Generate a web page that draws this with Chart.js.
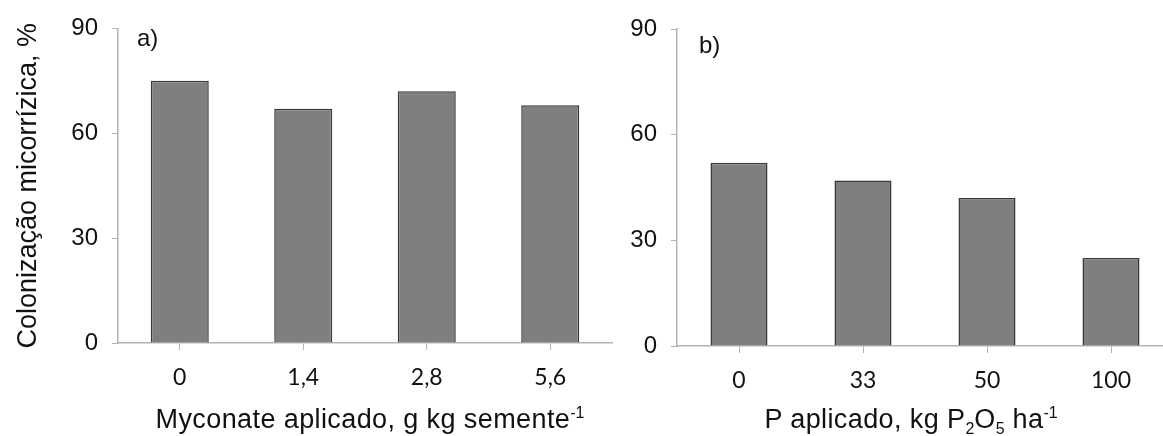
<!DOCTYPE html>
<html lang="pt-BR">
<head>
    <meta charset="UTF-8">
    <title>Colonização micorrízica</title>
    <script src="https://cdn.jsdelivr.net/npm/chart.js"></script>
    <style>
        body { margin: 0; background: #fff; overflow: hidden; width: 1163px; height: 436px; position: relative; }
        .painel { position: absolute; top: 0; height: 436px; }
        #painelA { left: 0; width: 640px; }
        #painelB { left: 600px; width: 600px; }
        .titulo-x {
            position: absolute; top: 404px; width: 500px; text-align: center;
            font-family: "Liberation Sans", Arial, sans-serif; font-size: 27px; line-height: 30px;
            letter-spacing: 0.4px; color: #111; white-space: nowrap;
        }
        .titulo-x sup, .titulo-x sub { font-size: 16px; line-height: 0; letter-spacing: 0; }
        #tituloA { left: 120px; }
        #tituloB { left: 661px; }
    </style>
</head>
<body>
    <div class="painel" id="painelA"><canvas id="graficoA"></canvas></div>
    <div class="painel" id="painelB"><canvas id="graficoB"></canvas></div>
    <div class="titulo-x" id="tituloA">Myconate aplicado, g kg semente<sup>-1</sup></div>
    <div class="titulo-x" id="tituloB">P aplicado, kg P<sub>2</sub>O<sub>5</sub> ha<sup>-1</sup></div>

    <script>
        // dados
        const doseMyconate = ["0", "1,4", "2,8", "5,6"];
        const colonizacaoMyconate = [75, 67, 72, 68];
        const doseP = ["0", "33", "50", "100"];
        const colonizacaoP = [52, 47, 42, 25];
        const yMin = 0, yMax = 90, yPasso = 30;

        const FONTE = "'Liberation Sans', Arial, sans-serif";
        const COR_EIXO = "#b3b3b3";

        // rótulo a) / b) no canto do painel
        const rotuloPainel = {
            id: "rotuloPainel",
            afterDraw(chart, args, opts) {
                const { ctx, chartArea } = chart;
                ctx.save();
                ctx.font = "24px " + FONTE;
                ctx.fillStyle = "#111";
                ctx.textBaseline = "middle";
                ctx.fillText(opts.texto, chartArea.left + opts.dx, opts.y);
                ctx.restore();
            }
        };

        function criarGrafico(id, rotulos, valores, cfg) {
            return new Chart(document.getElementById(id), {
                type: "bar",
                data: {
                    labels: rotulos,
                    datasets: [{
                        data: valores,
                        backgroundColor: "#7f7f7f",
                        borderColor: "#3a3a3a",
                        borderWidth: 1.5,
                        categoryPercentage: 1,
                        barPercentage: cfg.barra
                    }]
                },
                options: {
                    responsive: true,
                    maintainAspectRatio: false,
                    animation: false,
                    layout: { padding: { left: 0, right: cfg.direita, top: cfg.topo, bottom: 0 } },
                    plugins: {
                        legend: { display: false },
                        tooltip: { enabled: false },
                        rotuloPainel: cfg.rotulo
                    },
                    scales: {
                        x: {
                            grid: { display: true, drawOnChartArea: false, offset: false, tickLength: 7, color: COR_EIXO },
                            border: { color: COR_EIXO, width: 1.5 },
                            ticks: { font: { family: "Lato, sans-serif", size: 23 }, color: "#111", padding: 14, maxRotation: 0 },
                            afterFit(scale) { scale.height = cfg.alturaX; }
                        },
                        y: {
                            min: yMin,
                            max: yMax,
                            ticks: { stepSize: yPasso, font: { family: FONTE, size: 24 }, color: "#111", padding: 14 },
                            grid: { display: true, drawOnChartArea: false, tickLength: 6, color: COR_EIXO },
                            border: { color: COR_EIXO, width: 1.5 },
                            title: {
                                display: cfg.tituloY !== "",
                                text: cfg.tituloY,
                                font: { family: FONTE, size: 27 },
                                color: "#111",
                                padding: { top: 12, bottom: 0 }
                            },
                            afterFit(scale) { scale.width = cfg.larguraY; }
                        }
                    }
                },
                plugins: [rotuloPainel]
            });
        }

        criarGrafico("graficoA", doseMyconate, colonizacaoMyconate, {
            barra: 0.47, direita: 28, topo: 26, alturaX: 93, larguraY: 118,
            tituloY: "Colonização micorrízica, %",
            rotulo: { texto: "a)", dx: 19, y: 39 }
        });

        criarGrafico("graficoB", doseP, colonizacaoP, {
            barra: 0.46, direita: 27, topo: 29, alturaX: 90, larguraY: 77,
            tituloY: "",
            rotulo: { texto: "b)", dx: 22, y: 46 }
        });
    </script>
</body>
</html>
